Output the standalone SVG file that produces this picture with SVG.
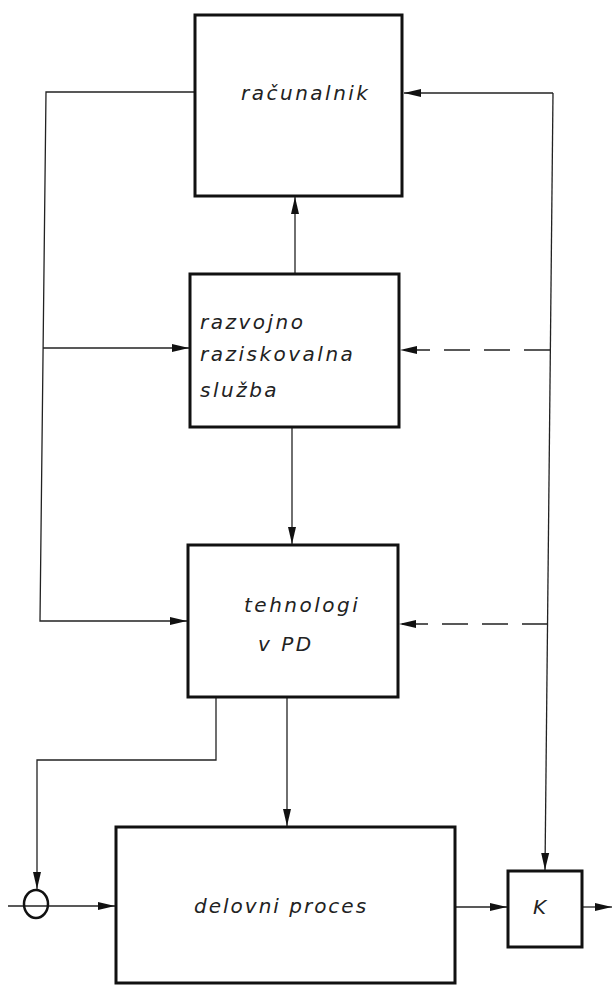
<svg xmlns="http://www.w3.org/2000/svg" width="612" height="986" viewBox="0 0 612 986">
<style>
.box{fill:none;stroke:#111;stroke-width:3}
.ln{fill:none;stroke:#222;stroke-width:1.3}
.dash{stroke-dasharray:26 14}
.t{font-family:"DejaVu Sans",sans-serif;font-style:italic;font-size:20px;fill:#222;letter-spacing:2.5px}
</style>
<defs>
<marker id="ah" markerUnits="userSpaceOnUse" markerWidth="18" markerHeight="10" refX="17" refY="5" orient="auto">
<path d="M0,1 L17,5 L0,9 z" fill="#111"/>
</marker>
</defs>
<rect width="612" height="986" fill="#fff"/>
<g id="connectors">
<polyline class="ln" points="194,92 46,92 40,621 187,621" marker-end="url(#ah)"/>
<line class="ln" x1="43" y1="348" x2="189" y2="348" marker-end="url(#ah)"/>
<line class="ln" x1="553" y1="93" x2="404" y2="93" marker-end="url(#ah)"/>
<line class="ln" x1="553" y1="93" x2="545" y2="870" marker-end="url(#ah)"/>
<line class="ln dash" x1="550" y1="350" x2="400" y2="350" marker-end="url(#ah)"/>
<line class="ln dash" x1="548" y1="624" x2="399" y2="624" marker-end="url(#ah)"/>
<line class="ln" x1="295" y1="273" x2="295" y2="197" marker-end="url(#ah)"/>
<line class="ln" x1="292" y1="428" x2="292" y2="544" marker-end="url(#ah)"/>
<polyline class="ln" points="216,698 216,760 37,760 37,889" marker-end="url(#ah)"/>
<line class="ln" x1="287" y1="698" x2="287" y2="826" marker-end="url(#ah)"/>
<line class="ln" x1="8" y1="906" x2="115" y2="906" marker-end="url(#ah)"/>
<line class="ln" x1="456" y1="907" x2="507" y2="907" marker-end="url(#ah)"/>
<line class="ln" x1="583" y1="907" x2="612" y2="907" marker-end="url(#ah)"/>
</g>
<g id="racunalnik">
<rect class="box" x="195" y="15" width="207" height="181"/>
<text class="t" x="241" y="100">računalnik</text>
</g>
<g id="razvojno">
<rect class="box" x="190" y="274" width="209" height="153"/>
<text class="t" x="200" y="329">razvojno</text>
<text class="t" x="200" y="361">raziskovalna</text>
<text class="t" x="200" y="397">služba</text>
</g>
<g id="tehnologi">
<rect class="box" x="188" y="545" width="210" height="152"/>
<text class="t" x="244" y="612">tehnologi</text>
<text class="t" x="258" y="651">v  PD</text>
</g>
<g id="sum">
<ellipse cx="36" cy="904" rx="12" ry="14" fill="none" stroke="#111" stroke-width="2.5"/>
</g>
<g id="delovni">
<rect class="box" x="116" y="827" width="339" height="156"/>
<text class="t" x="194" y="913" style="letter-spacing:2px">delovni proces</text>
</g>
<g id="K">
<rect class="box" x="508" y="871" width="74" height="76"/>
<text class="t" x="533" y="914">K</text>
</g>
</svg>
